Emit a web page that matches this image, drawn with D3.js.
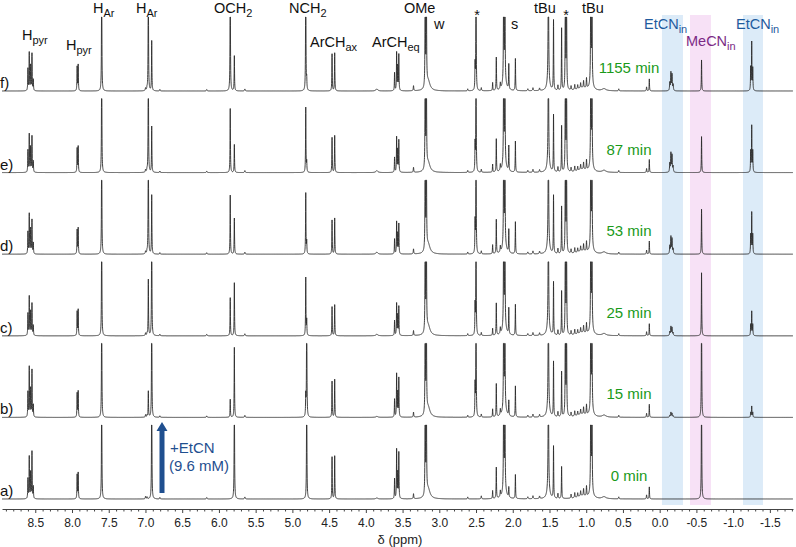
<!DOCTYPE html>
<html>
<head>
<meta charset="utf-8">
<script src="https://cdn.jsdelivr.net/npm/d3@7"></script>
<style>
  body { margin: 0; background: #fff; }
  svg text { font-family: "Liberation Sans", Arial, sans-serif; }
</style>
</head>
<body>
<script>
// spectra, bottom (a) to top (f)
var specLabels = ["a)", "b)", "c)", "d)", "e)", "f)"];
var times = ["0 min", "15 min", "25 min", "53 min", "87 min", "1155 min"];

// peak list: shift (ppm), half width (ppm), height in each spectrum (74 = top of slot)
var shift = [
  8.600, 8.582, 8.563, 8.545, 8.527,        // Hpyr
  7.930, 7.916,                             // Hpyr
  7.596,                                    // HAr
  6.961, 6.915,                             // HAr
  6.999, 6.979, 6.804,
  6.166, 5.647,
  5.846, 5.790,                             // OCH2
  4.818, 4.805,                             // NCH2
  4.460, 4.424,                             // ArCHax
  3.850,
  3.609, 3.581, 3.566, 3.551,               // ArCHeq
  3.351,
  3.192, 3.176, 3.152,                      // OMe, w
  2.613,
  2.513, 2.500,                             // *
  2.428, 2.274,
  2.224,
  2.169,
  2.124, 2.107, 2.114,                      // s
  2.054, 1.964,
  1.795, 1.725, 1.635,
  1.515, 1.515,                             // tBu
  1.445, 1.385, 1.335,
  1.284, 1.268,                             // *
  1.206, 1.156, 1.116, 1.076, 1.036, 0.996, 1.056,
  0.938, 0.922, 0.930,                      // tBu
  0.757, 0.557, 0.178, 0.141,
  -0.138, -0.153, -0.168, -0.183,           // EtCN in
  -0.570,                                   // MeCN in
  -1.239, -1.253, -1.267                    // EtCN in
];
var hwhm = [
  0.003, 0.003, 0.003, 0.003, 0.003,
  0.003, 0.003,
  0.003,
  0.003, 0.003,
  0.004, 0.004, 0.004,
  0.005, 0.005,
  0.003, 0.003,
  0.003, 0.003,
  0.003, 0.003,
  0.015,
  0.003, 0.003, 0.003, 0.003,
  0.004,
  0.003, 0.003, 0.03,
  0.004,
  0.003, 0.003,
  0.004, 0.003,
  0.003,
  0.004,
  0.003, 0.003, 0.025,
  0.003, 0.003,
  0.005, 0.005, 0.005,
  0.004, 0.02,
  0.003, 0.004, 0.003,
  0.003, 0.003,
  0.004, 0.004, 0.004, 0.004, 0.004, 0.004, 0.08,
  0.003, 0.003, 0.02,
  0.03, 0.004, 0.004, 0.003,
  0.004, 0.004, 0.004, 0.004,
  0.003,
  0.003, 0.003, 0.003
];
var hA = [
  20, 42, 26, 47, 12,
  24, 26,
  130,
  0, 130,
  2.5, 2, 1.5,
  1.5, 2,
  0, 130,
  0, 130,
  42, 43,
  1,
  20, 49, 25, 46,
  5,
  130, 130, 10,
  2,
  0, 0,
  3, 8,
  31,
  6,
  130, 130, 12,
  10, 24,
  2, 3, 2.5,
  130, 10,
  52, 5, 32,
  0, 0,
  4, 5, 4, 5, 7, 10, 3,
  130, 130, 10,
  2, 2, 4, 12,
  0, 0, 0, 0,
  130,
  0, 0, 0
];
var hB = [
  25, 50, 28, 47, 12,
  24, 26,
  130,
  26, 130,
  2.5, 2, 1.5,
  1.5, 2,
  18, 70,
  20, 130,
  36, 38,
  1,
  18, 43, 24, 39,
  5,
  130, 130, 10,
  2,
  31, 130,
  3, 8,
  33,
  6,
  130, 130, 12,
  15, 31,
  2, 3, 2.5,
  130, 10,
  55, 5, 45,
  130, 130,
  4, 5, 4, 5, 7, 10, 3,
  130, 130, 10,
  2, 2, 4, 13,
  2, 5, 4, 1.5,
  130,
  5, 11, 5
];
var hC = [
  22, 39, 24, 32, 10,
  24, 26,
  130,
  56, 130,
  2.5, 2, 1.5,
  1.5, 2,
  38, 53,
  58, 15,
  29, 31,
  1.5,
  15, 32, 20, 29,
  5,
  130, 130, 10,
  2,
  29, 130,
  3, 7,
  32,
  6,
  130, 130, 12,
  26, 31,
  2, 3, 2.5,
  130, 10,
  53, 5, 44,
  130, 130,
  4, 5, 4, 5, 7, 10, 3,
  130, 130, 10,
  2, 2, 4, 12,
  4, 9, 8, 3,
  63,
  11, 24, 11
];
var hD = [
  22, 40, 25, 34, 11,
  24, 26,
  130,
  130, 59,
  2.5, 2, 1.5,
  1.5, 2,
  59, 36,
  61, 12,
  34, 36,
  2,
  15, 32, 20, 30,
  5,
  130, 130, 10,
  2,
  31, 130,
  3, 9,
  34,
  6,
  130, 130, 12,
  23, 32,
  2, 3, 2.5,
  130, 10,
  58, 5, 47,
  130, 130,
  4, 5, 4, 5, 7, 10, 3,
  130, 130, 10,
  2, 2, 4, 13,
  8, 17, 15, 5,
  45,
  19, 41, 19
];
var hE = [
  22, 38, 25, 36, 11,
  24, 26,
  130,
  130, 46,
  2.5, 2, 1.5,
  1.5, 2,
  64, 28,
  65, 10,
  35, 37,
  2,
  15, 35, 22, 32,
  5,
  130, 130, 10,
  2,
  27, 130,
  3, 8,
  33,
  6,
  130, 130, 12,
  25, 31,
  2, 3, 2.5,
  130, 10,
  57, 5, 46,
  130, 130,
  4, 5, 4, 5, 7, 10, 3,
  130, 130, 10,
  2, 2, 4, 13,
  9, 19, 17, 6,
  36,
  21, 46, 21
];
var hF = [
  22, 38, 25, 37, 11,
  24, 26,
  130,
  130, 50,
  2.5, 2, 1.5,
  1.5, 2,
  130, 35,
  130, 10,
  37, 38,
  2,
  18, 38, 24, 36,
  5,
  130, 130, 10,
  2,
  25, 130,
  3, 8,
  33,
  6,
  130, 130, 12,
  25, 32,
  2, 3, 2.5,
  130, 10,
  70, 5, 62,
  130, 130,
  4, 5, 4, 5, 7, 10, 3,
  130, 130, 10,
  2, 2, 4, 12,
  8, 18, 16, 6,
  31,
  23, 48, 22
];
var heights = [hA, hB, hC, hD, hE, hF];

// axis ticks
var tickValues = [8.5, 8.0, 7.5, 7.0, 6.5, 6.0, 5.5, 5.0, 4.5, 4.0, 3.5, 3.0, 2.5,
                  2.0, 1.5, 1.0, 0.5, 0.0, -0.5, -1.0, -1.5];
var tickLabels = ["8.5", "8.0", "7.5", "7.0", "6.5", "6.0", "5.5", "5.0", "4.5", "4.0",
                  "3.5", "3.0", "2.5", "2.0", "1.5", "1.0", "0.5", "0.0", "-0.5", "-1.0", "-1.5"];

// highlighted regions (ppm)
var bandFrom = [-0.031, -0.413, -1.134];
var bandTo = [-0.317, -0.698, -1.406];

var W = 796, H = 547, slot = 74, axisY = 509;
var ppmMax = 8.953, ppmMin = -1.815;

var svg = d3.select('body').append('svg')
    .attr('width', W)
    .attr('height', H);

var x = d3.scaleLinear().domain([ppmMax, ppmMin]).range([2, 793]);
var base = d3.scalePoint().domain(specLabels).range([499, 91]);

var bandColors = ['#dcebf8', '#f7e1f6', '#dcebf8'];
svg.append('g').selectAll('rect')
    .data(bandFrom)
    .enter()
    .append('rect')
    .attr('x', function(d) { return x(d); })
    .attr('width', function(d, i) { return x(bandTo[i]) - x(d); })
    .attr('y', 15)
    .attr('height', 490)
    .attr('fill', function(d, i) { return bandColors[i]; });

var grid = d3.range(ppmMax, ppmMin, -0.001);

function spectrum(h) {
    return grid.map(function(p) {
        var s = 0;
        for (var k = 0; k < shift.length; k++) {
            if (!h[k]) continue;
            var w = hwhm[k], d = p - shift[k];
            s += h[k] * w * w / (d * d + w * w);
        }
        return [p, s];
    });
}

specLabels.forEach(function(lab, i) {
    var b = base(lab);
    var y = d3.scaleLinear().domain([0, slot]).range([b, b - slot]).clamp(true);
    var line = d3.line()
        .x(function(d) { return x(d[0]); })
        .y(function(d) { return y(d[1]); });

    svg.append('path')
        .datum(spectrum(heights[i]))
        .attr('d', line)
        .attr('fill', 'none')
        .attr('stroke', '#2a2a2a')
        .attr('stroke-width', 0.9)
        .attr('stroke-linejoin', 'round');

    svg.append('text')
        .attr('x', 0)
        .attr('y', b - 3)
        .attr('font-size', 15)
        .attr('fill', '#111')
        .text(lab);

    svg.append('text')
        .attr('x', 629)
        .attr('y', b - 18)
        .attr('text-anchor', 'middle')
        .attr('font-size', 15)
        .attr('fill', '#1a9a1a')
        .text(times[i]);
});

// axis
var axis = svg.append('g')
    .attr('transform', 'translate(0,' + axisY + ')')
    .call(d3.axisBottom(x)
        .tickValues(tickValues)
        .tickFormat(function(d, i) { return tickLabels[i]; })
        .tickSize(4)
        .tickSizeOuter(0)
        .tickPadding(5));
axis.select('.domain').attr('stroke', '#444');
axis.selectAll('.tick line').attr('stroke', '#444');
axis.selectAll('text')
    .attr('font-family', 'DejaVu Sans')
    .attr('font-size', 12)
    .attr('fill', '#222');

var minor = d3.range(89, -19, -1).map(function(v) { return v / 10; })
    .filter(function(v) { return Math.abs(v * 2 - Math.round(v * 2)) > 1e-6; });
var minorAxis = svg.append('g')
    .attr('transform', 'translate(0,' + axisY + ')')
    .call(d3.axisBottom(x).tickValues(minor).tickSize(2.5).tickFormat(''));
minorAxis.select('.domain').remove();
minorAxis.selectAll('.tick line').attr('stroke', '#444');

svg.append('text')
    .attr('x', 400)
    .attr('y', 544)
    .attr('text-anchor', 'middle')
    .attr('font-family', 'DejaVu Sans')
    .attr('font-size', 13)
    .attr('fill', '#222')
    .text('δ (ppm)');

// peak labels
function label(px, py, main, sub, color, anchor) {
    var t = svg.append('text')
        .attr('x', px)
        .attr('y', py)
        .attr('font-size', 14.5)
        .attr('fill', color || '#111')
        .attr('text-anchor', anchor || 'start');
    t.append('tspan').text(main);
    if (sub) {
        t.append('tspan').attr('dy', 4).attr('font-size', 11).text(sub);
    }
}
label(22, 40, 'H', 'pyr');
label(66, 50, 'H', 'pyr');
label(93, 13, 'H', 'Ar');
label(136, 13, 'H', 'Ar');
label(214, 13, 'OCH', '2');
label(289, 13, 'NCH', '2');
label(310, 47, 'ArCH', 'ax');
label(372, 47, 'ArCH', 'eq');
label(404, 13, 'OMe');
label(434, 29, 'w');
label(477, 20, '*', null, null, 'middle');
label(511, 29, 's');
label(534, 13, 'tBu');
label(566, 20, '*', null, null, 'middle');
label(582, 13, 'tBu');
label(644, 29, 'EtCN', 'in', '#1f5b9e');
label(686, 46, 'MeCN', 'in', '#7b2a85');
label(736, 29, 'EtCN', 'in', '#1f5b9e');

// addition arrow
var arrowColor = '#1f4f8f';
svg.append('path')
    .attr('d', 'M159.5,493 L159.5,431 L156.5,431 L162,422 L167.5,431 L164.5,431 L164.5,493 Z')
    .attr('fill', arrowColor);
svg.append('text')
    .attr('x', 170).attr('y', 453)
    .attr('font-size', 15).attr('fill', arrowColor)
    .text('+EtCN');
svg.append('text')
    .attr('x', 169).attr('y', 471)
    .attr('font-size', 15).attr('fill', arrowColor)
    .text('(9.6 mM)');
</script>
</body>
</html>
